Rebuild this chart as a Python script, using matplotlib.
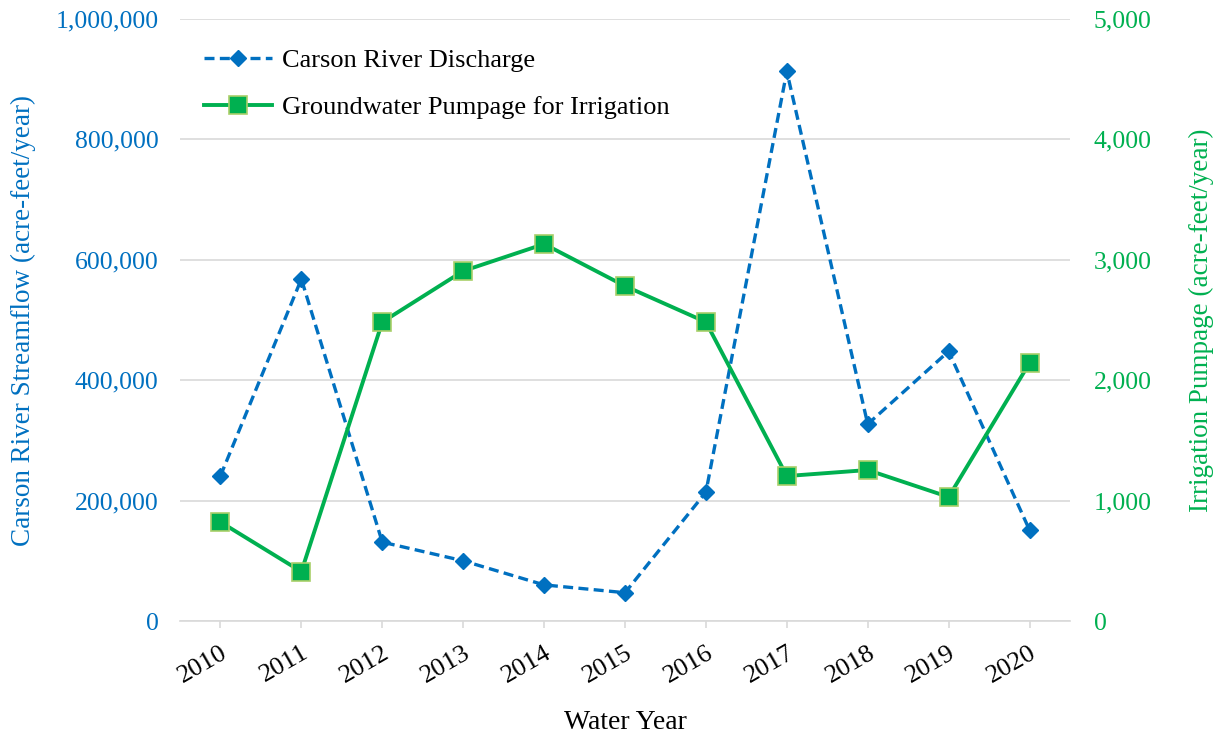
import matplotlib
matplotlib.use("Agg")
import matplotlib.pyplot as plt
from matplotlib.ticker import FuncFormatter

years = ["2010", "2011", "2012", "2013", "2014", "2015", "2016", "2017", "2018", "2019", "2020"]
discharge = [241000, 568000, 131000, 100000, 60000, 47000, 214000, 913000, 327000, 448000, 151000]
pumpage = [822, 410, 2483, 2907, 3131, 2782, 2483, 1204, 1254, 1030, 2143]

BLUE = "#0070C0"
GREEN = "#00B050"
GRID = "#D9D9D9"

plt.rcParams['font.family'] = ['Liberation Serif', 'DejaVu Serif']

fig = plt.figure(figsize=(12.21, 7.38), dpi=100)
ax = fig.add_axes([180/1221, 1-621/738, 890/1221, 602/738])
ax2 = ax.twinx()

x = list(range(len(years)))
l1, = ax.plot(x, discharge, color=BLUE, linestyle=(0, (3, 1.6)), linewidth=2.4,
              marker='D', markersize=8.5, markerfacecolor=BLUE, markeredgecolor=BLUE,
              label="Carson River Discharge", zorder=3)
l2, = ax2.plot(x, pumpage, color=GREEN, linewidth=2.8, marker='s', markersize=13.5,
               markerfacecolor=GREEN, markeredgecolor="#A9CF6A", markeredgewidth=1.2,
               label="Groundwater Pumpage for Irrigation", zorder=3)

ax.set_xlim(-0.5, len(years) - 0.5)
ax.set_ylim(0, 1000000)
ax2.set_ylim(0, 5000)
ax.set_yticks(range(0, 1000001, 200000))
ax2.set_yticks(range(0, 5001, 1000))
ax.yaxis.set_major_formatter(FuncFormatter(lambda v, p: f"{int(v):,}"))
ax2.yaxis.set_major_formatter(FuncFormatter(lambda v, p: f"{int(v):,}"))
ax.grid(axis='y', color=GRID, linewidth=1.2)
ax.set_axisbelow(True)

for a in (ax, ax2):
    for s in ("top", "left", "right"):
        a.spines[s].set_visible(False)
ax2.spines["bottom"].set_visible(False)
ax.spines["bottom"].set_color(GRID)
ax.spines["bottom"].set_linewidth(1.2)

ax.set_xticks(x)
ax.set_xticklabels(years, rotation=30, ha='right', rotation_mode='anchor', fontsize=19)
ax.tick_params(axis='x', color=GRID, length=5, width=1.2, pad=10)
ax.tick_params(axis='y', length=0, labelsize=18.5, labelcolor=BLUE, pad=15.5)
ax2.tick_params(axis='y', length=0, labelsize=18.5, labelcolor=GREEN, pad=17)

ax.set_xlabel("Water Year", fontsize=20, labelpad=16)
ax.set_ylabel("Carson River Streamflow (acre-feet/year)", fontsize=19.5, color=BLUE, labelpad=14)
ax2.set_ylabel("Irrigation Pumpage (acre-feet/year)", fontsize=19.5, color=GREEN, labelpad=27)

leg = ax.legend(handles=[l1, l2], loc='upper left', bbox_to_anchor=(0.0, 0.99),
                frameon=False, fontsize=19, handlelength=2.6, labelspacing=0.9,
                handletextpad=0.35)

fig.savefig("out.png", dpi=100)
